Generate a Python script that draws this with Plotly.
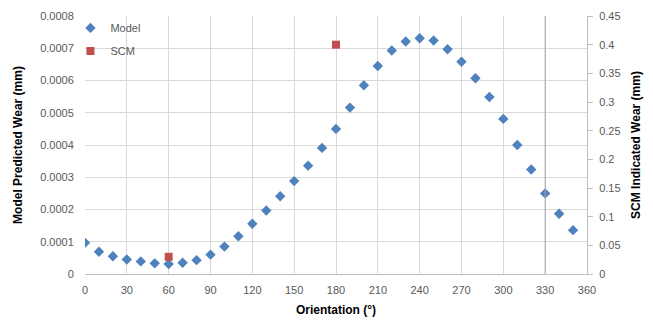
import plotly.graph_objects as go

orientation = [0, 10, 20, 30, 40, 50, 60, 70, 80, 90, 100, 110, 120, 130, 140, 150, 160, 170,
               180, 190, 200, 210, 220, 230, 240, 250, 260, 270, 280, 290, 300, 310, 320, 330, 340, 350]
model_wear = [0.000097, 0.000069, 0.000055, 0.000045, 0.000039, 0.000033, 0.000031, 0.000035,
              0.000043, 0.000060, 0.000085, 0.000117, 0.000156, 0.000197, 0.000241, 0.000288,
              0.000336, 0.000391, 0.000450, 0.000516, 0.000585, 0.000645, 0.000693, 0.000721,
              0.000731, 0.000724, 0.000697, 0.000658, 0.000607, 0.000549, 0.000481, 0.000400,
              0.000324, 0.000250, 0.000187, 0.000136]
scm_orientation = [60, 180]
scm_wear = [0.03, 0.40]
highlight_orientation = 330

left_ticks = [0, 0.0001, 0.0002, 0.0003, 0.0004, 0.0005, 0.0006, 0.0007, 0.0008]
left_ticktext = ["0", "0.0001", "0.0002", "0.0003", "0.0004", "0.0005", "0.0006", "0.0007", "0.0008"]
right_ticks = [0, 0.05, 0.1, 0.15, 0.2, 0.25, 0.3, 0.35, 0.4, 0.45]
right_ticktext = ["0", "0.05", "0.1", "0.15", "0.2", "0.25", "0.3", "0.35", "0.4", "0.45"]

FONT = "Liberation Sans"
TICKCOL = "#595959"
GRID = "#D9D9D9"

fig = go.Figure()
fig.add_trace(go.Scatter(
    x=orientation, y=model_wear, mode="markers", name="Model",
    marker=dict(symbol="diamond", size=8, color="#4F81BD"),
    legendgroup="a", yaxis="y"))
fig.add_trace(go.Scatter(
    x=scm_orientation, y=scm_wear, mode="markers", name="SCM",
    marker=dict(symbol="square", size=8, color="#C0504D"),
    legendgroup="b", yaxis="y2"))

fig.add_shape(type="line", xref="x", yref="paper", x0=highlight_orientation, x1=highlight_orientation,
              y0=0, y1=1, line=dict(color="#A6A6A6", width=1))

fig.update_layout(
    width=653, height=323,
    margin=dict(l=77, r=74, t=8, b=57, autoexpand=False),
    paper_bgcolor="white", plot_bgcolor="white",
    font=dict(family=FONT, size=11, color=TICKCOL),
    showlegend=True,
    legend=dict(x=-0.029, y=1.01, xanchor="left", yanchor="top", bgcolor="rgba(0,0,0,0)",
                font=dict(family=FONT, size=11, color=TICKCOL), tracegroupgap=4,
                itemwidth=30),
    xaxis=dict(range=[0, 360], dtick=30, tick0=0, showgrid=True, gridcolor=GRID, gridwidth=1,
               showline=True, linecolor="#BFBFBF", linewidth=1, zeroline=False,
               ticks="outside", ticklen=6, tickcolor="rgba(0,0,0,0)",
               automargin=False,
               tickfont=dict(family=FONT, size=11, color=TICKCOL),
               title=dict(text="Orientation (°)", standoff=10,
                          font=dict(family=FONT, size=12, color="black", weight="bold"))),
    yaxis=dict(range=[0, 0.0008], tickvals=left_ticks, ticktext=left_ticktext,
               showgrid=True, gridcolor=GRID, gridwidth=1, zeroline=False, showline=False,
               ticks="outside", ticklen=8, tickcolor="rgba(0,0,0,0)",
               automargin=False, tickfont=dict(family=FONT, size=11, color=TICKCOL),
               title=dict(text="Model Predicted Wear (mm)", standoff=14,
                          font=dict(family=FONT, size=12, color="black", weight="bold"))),
    yaxis2=dict(range=[0, 0.45], tickvals=right_ticks, ticktext=right_ticktext,
                overlaying="y", side="right", showgrid=False, zeroline=False,
                showline=True, linecolor="#BFBFBF", linewidth=1, automargin=False,
                ticks="outside", ticklen=5, tickcolor="#BFBFBF", ticklabelstandoff=4,
                tickfont=dict(family=FONT, size=11, color=TICKCOL),
                title=dict(text="SCM Indicated Wear (mm)", standoff=11,
                           font=dict(family=FONT, size=12, color="black", weight="bold"))),
)

fig.write_html("out.html")
